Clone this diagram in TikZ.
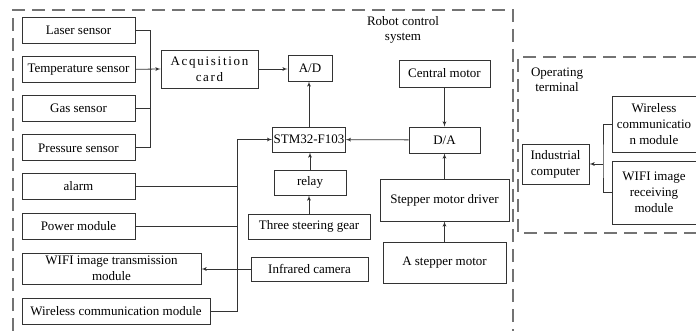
\documentclass[tikz,border=0pt]{standalone}
\usepackage{fontspec}
\setmainfont{Liberation Serif}
\usepackage{tikz}
\usetikzlibrary{shapes.geometric, arrows}
\usepackage{xcolor}

\newcommand{\lsp}{\kern1.7pt}

\begin{document}
\begin{tikzpicture}[
    x=1pt, y=-1pt,
    node distance=39.3pt,
    block/.style={rectangle, draw=black!80, line width=0.8pt, align=center, inner sep=1pt, minimum height=26pt, font=\fontsize{13}{16}\selectfont},
    label/.style={align=center, inner sep=0pt, font=\fontsize{13}{15}\selectfont},
    frame/.style={draw=black!55, line width=1.1pt, dash pattern=on 13pt off 7pt},
    line/.style={draw=black!80, line width=0.8pt, -latex'},
    wire/.style={draw=black!80, line width=0.8pt}
]
    \useasboundingbox (0,0) rectangle (696,331);

    \path [frame] (13,331) -- (13,10) -- (513,10) -- (513,331);
    \path [frame] (696,57) -- (518,57) -- (518,233) -- (696,233);
    \node [label] (robot) at (403,30) {Robot control\\system};
    \node [label] (terminal) at (557,80) {Operating\\terminal};

    \node [block, minimum width=113pt] (laser) at (78.5,30) {Laser sensor};
    \node [block, minimum width=113pt, below of=laser] (temp) {Temperature sensor};
    \node [block, minimum width=113pt, below of=temp] (gas) {Gas sensor};
    \node [block, minimum width=113pt, below of=gas] (pressure) {Pressure sensor};
    \node [block, minimum width=113pt] (alarm) at (78.5,186.5) {alarm};
    \node [block, minimum width=113pt] (power) at (78.5,226) {Power module};
    \node [block, minimum width=179pt, minimum height=31pt] (wifitx) at (111.5,268.5) {WIFI image transmission\\module};
    \node [block, minimum width=188pt] (wireless) at (116,311) {Wireless communication module};

    \node [block, minimum width=97pt, minimum height=38pt] (acq) at (209.5,69)
        {A\lsp c\lsp q\lsp u\lsp i\lsp s\lsp i\lsp t\lsp i\lsp o\lsp n\\c\lsp a\lsp r\lsp d};
    \node [block, minimum width=44pt] (ad) at (310,68) {A/D};
    \node [block, minimum width=70pt, minimum height=25pt] (stm) at (309,139.5) {STM32-F103};
    \node [block, minimum width=72pt, minimum height=25pt] (relay) at (310,182.5) {relay};
    \node [block, minimum width=122pt, minimum height=25pt] (steering) at (309,226.5) {Three steering gear};
    \node [block, minimum width=117pt, minimum height=24pt] (camera) at (309.5,269) {Infrared camera};

    \node [block, minimum width=91pt, minimum height=27pt] (central) at (444.5,73.5) {Central motor};
    \node [block, minimum width=71pt] (da) at (444.5,140) {D/A};
    \node [block, minimum width=129pt, minimum height=42pt] (driver) at (444.5,200) {Stepper motor driver};
    \node [block, minimum width=123pt, minimum height=41pt] (stepper) at (444.5,262.5) {A stepper motor};

    \node [block, minimum width=67pt, minimum height=40pt] (computer) at (555.5,164) {Industrial\\computer};
    \node [block, minimum width=84pt, minimum height=56pt] (wlmodule) at (654,124) {Wireless\\communicatio\\n module};
    \node [block, minimum width=84pt, minimum height=63pt] (wifirx) at (654,192.5) {WIFI image\\receiving\\module};

    \coordinate (sensbus) at (150,30);
    \coordinate (bus) at (237,139.5);
    \coordinate (joint) at (603,164);

    \path [wire] (laser.east) -- (sensbus) |- (pressure.east);
    \path [wire] (gas.east) -- (gas.east -| sensbus);
    \path [line] (temp.east) -- (acq.west);
    \path [line] (acq.east) -- (acq.east -| ad.west);
    \path [line] (stm.north) -- (stm.north |- ad.south);
    \path [line] (central) -- (da);
    \path [line] (da) -- (stm);
    \path [line] (relay.north) -- (relay.north |- stm.south);
    \path [line] (steering.north) -- (steering.north |- relay.south);
    \path [line] (stepper) -- (driver);
    \path [line] (driver) -- (da);
    \path [line] (wireless.east) -| (bus) -- (stm.west);
    \path [wire] (alarm.east) -- (alarm.east -| bus);
    \path [wire] (power.east) -- (power.east -| bus);
    \path [line] (camera.west) -- (camera.west -| wifitx.east);
    \path [wire] (wlmodule.west) -| (joint) |- (wifirx.west);
    \path [line] (joint) -- (computer.east);
\end{tikzpicture}
\end{document}
